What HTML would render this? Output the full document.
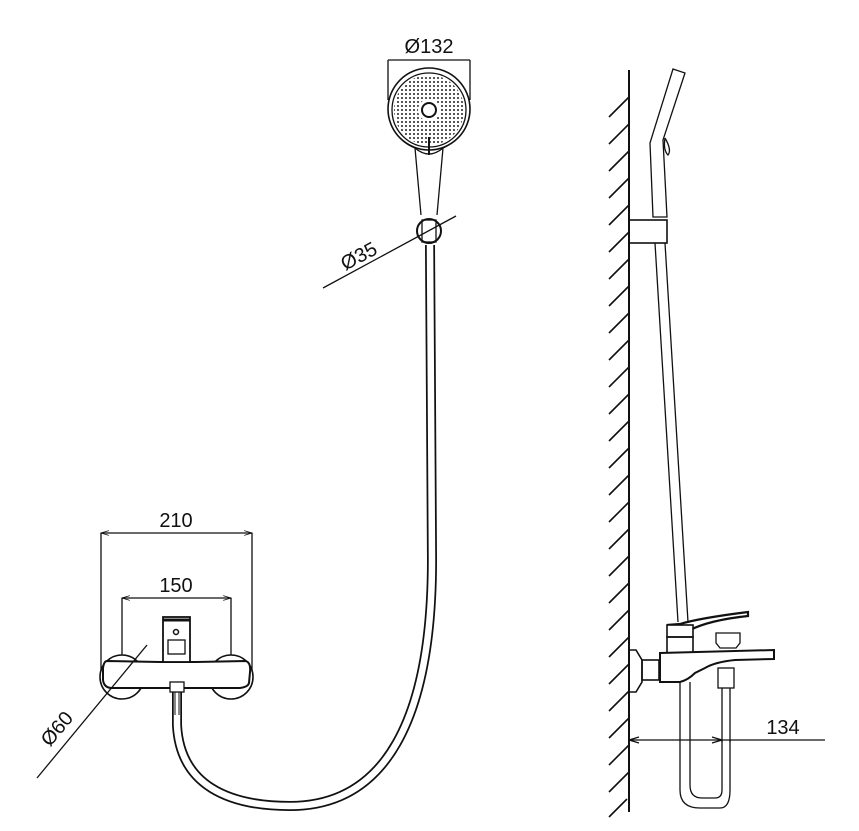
<!DOCTYPE html>
<html><head><meta charset="utf-8"><style>
html,body{margin:0;padding:0;background:#fff;}
svg{display:block;}
text{font-family:"Liberation Sans",sans-serif;font-size:20px;fill:#111;}
</style></head><body>
<svg width="859" height="831" viewBox="0 0 859 831" xmlns="http://www.w3.org/2000/svg">
<defs>
<pattern id="dots" width="4" height="4" patternUnits="userSpaceOnUse">
<circle cx="2" cy="2" r="1" fill="#222"/>
</pattern>
<marker id="ar" viewBox="0 0 10 10" refX="10" refY="5" markerWidth="8" markerHeight="6" orient="auto-start-reverse">
<path d="M0,2 L10,5 L0,8" fill="none" stroke="#111" stroke-width="1"/>
</marker>
</defs>
<g fill="none" stroke="#111" stroke-width="1.3">
<!-- front hose -->
<path d="M177,688 L177,725 C180,785 228,806 290,806 C385,806 432,720 432,560 L430,245" stroke-width="10"/>
<path d="M177,688 L177,725 C180,785 228,806 290,806 C385,806 432,720 432,560 L430,245" stroke="#fff" stroke-width="6.5"/>
<line x1="177" y1="692" x2="177" y2="715" stroke-width="5"/>
<line x1="177" y1="692" x2="177" y2="715" stroke="#fff" stroke-width="3"/>

<!-- shower head -->
<line x1="388" y1="60" x2="470" y2="60"/>
<line x1="388" y1="60" x2="388" y2="100"/>
<line x1="470" y1="60" x2="470" y2="100"/>
<path d="M421,215 L415,148 Q395,140 390,118 M437,215 L443,148 Q465,138 469,110" fill="#fff"/>
<circle cx="429" cy="109" r="41" fill="#fff" stroke-width="1.6"/>
<circle cx="429" cy="110" r="37"/>
<circle cx="429" cy="110" r="35" fill="url(#dots)" stroke="none"/>
<circle cx="429" cy="110" r="11" fill="#fff" stroke="none"/>
<circle cx="429" cy="110" r="7" stroke-width="2"/>
<line x1="429" y1="137" x2="429" y2="155" stroke-width="2"/>
<path d="M415,148 Q429,160 443,148"/>
<circle cx="429" cy="231" r="12" stroke-width="2"/>
<rect x="422" y="220" width="14" height="22" fill="none"/>
<line x1="323" y1="288" x2="456" y2="216"/>

<!-- front mixer -->
<line x1="101" y1="533" x2="252" y2="533" marker-start="url(#ar)" marker-end="url(#ar)"/>
<line x1="101" y1="533" x2="101" y2="670"/>
<line x1="252" y1="533" x2="252" y2="670"/>
<line x1="122" y1="598" x2="231" y2="598" marker-start="url(#ar)" marker-end="url(#ar)"/>
<line x1="122" y1="598" x2="122" y2="655"/>
<line x1="231" y1="598" x2="231" y2="655"/>
<circle cx="122" cy="677" r="22" fill="#fff" stroke-width="1.6"/>
<circle cx="231" cy="677" r="22" fill="#fff" stroke-width="1.6"/>
<path d="M107,661 L160,662 L196,662 L246,661 Q251,663 250,672 L249,683 Q248,687 240,688 L196,688 L160,688 L112,688 Q104,688 103,680 L103,668 Q104,661 107,661 Z" fill="#fff" stroke-width="2"/>
<rect x="163" y="617" width="27" height="45" fill="#fff" stroke-width="1.8"/>
<line x1="163" y1="620" x2="190" y2="620" stroke-width="3"/>
<circle cx="176" cy="632" r="2.5" stroke-width="1.5"/>
<rect x="168" y="640" width="17" height="14"/>
<rect x="170" y="682" width="14" height="10" fill="#fff"/>
<line x1="37" y1="778" x2="147" y2="645"/>

<!-- wall -->
<line x1="629" y1="70" x2="629" y2="812" stroke-width="2"/>
<g stroke-width="1.6">
<path d="M609,117 L629,97 M609,144 L629,124 M609,171 L629,151 M609,198 L629,178 M609,225 L629,205 M609,252 L629,232 M609,279 L629,259 M609,306 L629,286 M609,333 L629,313 M609,360 L629,340 M609,387 L629,367 M609,414 L629,394 M609,441 L629,421 M609,468 L629,448 M609,495 L629,475 M609,522 L629,502 M609,549 L629,529 M609,576 L629,556 M609,603 L629,583 M609,630 L629,610 M609,657 L629,637 M609,684 L629,664 M609,711 L629,691 M609,738 L629,718 M609,765 L629,745 M609,792 L629,772 M609,817 L627,799"/>
</g>
<!-- side handset -->
<path d="M673,69 L685,73 L663,140 L667,217 L653,217 L650,143 Z"/>
<path d="M665,138 Q672,150 668,155 Q663,150 665,138"/>
<rect x="629" y="220" width="38" height="23" stroke-width="1.6"/>
<path d="M655,243 L678,622 M665,243 L688,622"/>
<!-- side mixer -->
<path d="M667,625 L680,624 Q700,618 748,612 L748,616 Q710,620 690,630 L667,632" fill="#fff" stroke-width="2.2"/>
<rect x="667" y="625" width="26" height="12" fill="#fff" stroke-width="1.6"/>
<rect x="667" y="637" width="26" height="16" stroke-width="1.6"/>
<path d="M716,633 L740,633 L740,643 L736,648 L720,648 L716,643 Z"/>
<path d="M660,653 L774,650 L774,659 L735,660 Q715,662 705,668 L695,673 Q688,680 680,682 L660,682 Z" fill="#fff" stroke-width="2"/>
<path d="M629,650 L636,650 L642,660 L642,682 L636,692 L629,692 Z" stroke-width="1.6"/>
<rect x="642" y="660" width="17" height="20" stroke-width="1.6"/>
<rect x="718" y="668" width="16" height="20"/>
<path d="M722,688 L722,742 M730,688 L730,742"/>
<path d="M680,682 L680,790 Q680,808 700,808 L720,808 Q730,808 730,790 L730,740 M690,682 L690,785 Q690,798 702,798 L715,798 Q722,798 722,790 L722,740"/>
<line x1="629" y1="740" x2="825" y2="740"/>
<path d="M629,740 L639,737 M629,740 L639,743 M722,740 L712,737 M722,740 L712,743"/>
</g>
<text x="429" y="53" text-anchor="middle">Ø132</text>
<text x="176" y="527" text-anchor="middle">210</text>
<text x="176" y="592" text-anchor="middle">150</text>
<text x="783" y="734" text-anchor="middle">134</text>
<text transform="translate(362,262) rotate(-28)" text-anchor="middle">Ø35</text>
<text transform="translate(62,733) rotate(-50)" text-anchor="middle">Ø60</text>
</svg>
</body></html>
